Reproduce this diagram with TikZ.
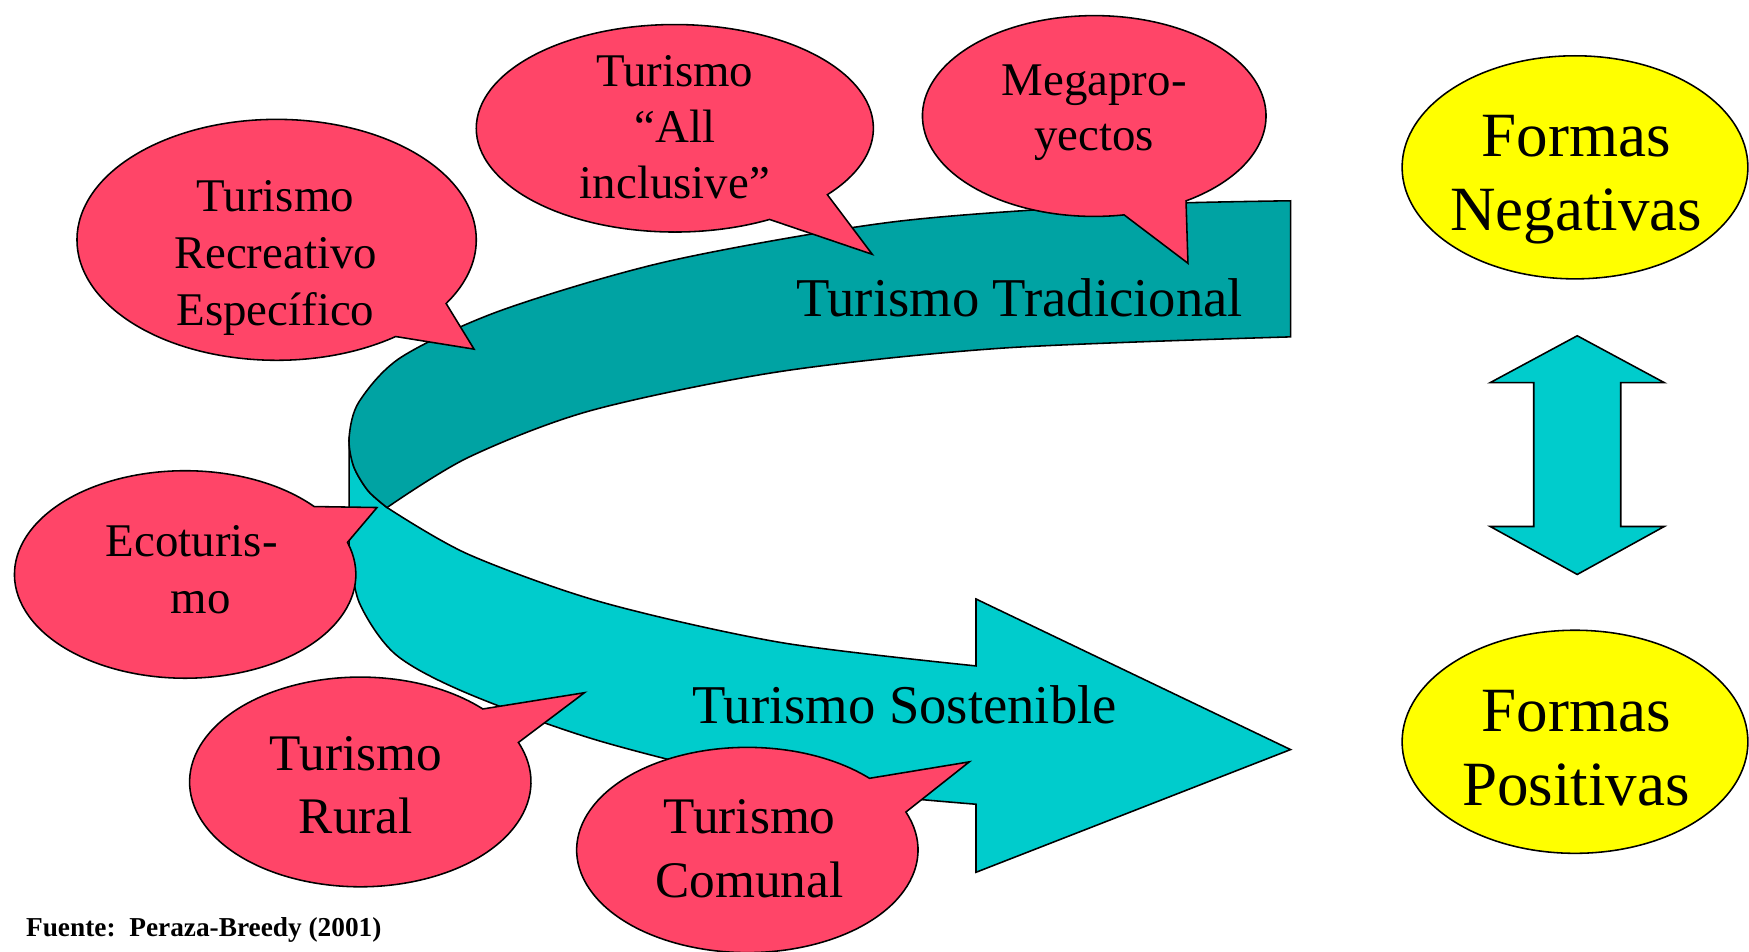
\documentclass[tikz,border=0pt]{standalone}
\usepackage{fontspec}
\setmainfont{Liberation Serif}
\definecolor{bubpink}{RGB}{255,69,104}
\definecolor{darkteal}{RGB}{0,163,163}
\definecolor{lightcyan}{RGB}{0,204,204}
\definecolor{formyel}{RGB}{255,255,0}
\tikzset{
  outl/.style={draw=black, line width=0.7pt, line join=miter},
  bub/.style={outl, fill=bubpink},
  yel/.style={outl, fill=formyel},
  bandD/.style={outl, fill=darkteal},
  bandL/.style={outl, fill=lightcyan},
  btxt/.style={align=center, inner sep=0pt, font=\fontsize{21pt}{25.5pt}\selectfont},
  bigbtxt/.style={align=center, inner sep=0pt, font=\fontsize{23pt}{28.5pt}\selectfont},
  formtxt/.style={align=center, inner sep=0pt, font=\fontsize{28.25pt}{33pt}\selectfont},
  bandtxt/.style={inner sep=0pt, anchor=base, font=\fontsize{24.5pt}{29pt}\selectfont},
}
\begin{document}
\begin{tikzpicture}[x=0.5pt, y=-0.5pt]
\useasboundingbox (0,0) rectangle (1568,853);
\fill[white] (0,0) rectangle (1568,853);

% lower (light) band with arrow head
\path[bandL] (347,455) -- plot[smooth] coordinates {(347,455) (420,497) (540,540) (700,576) (875,597)}
  -- (875,537) -- (1157,672) -- (875,782) -- (875,721)
  -- plot[smooth] coordinates {(875,721) (700,703) (540,665) (420,622) (355,587) (322,540) (313,490)}
  -- (313,392)
  -- plot[smooth] coordinates {(313,392) (317,418) (330,440) (347,455)} -- cycle;

% upper (dark) band
\path[bandD] (1157,302) -- (1157,180)
  -- plot[smooth] coordinates {(1157,180) (1000,184) (800,199) (600,234) (450,278) (360,320) (322,360) (313,392) (317,418) (330,440) (347,455)}
  -- plot[smooth] coordinates {(347,455) (420,410) (530,368) (700,333) (900,312) (1157,302)} -- cycle;

\node[bandtxt] (trad) at (914,284) {Turismo Tradicional};
\node[bandtxt] (sost) at (811,649) {Turismo Sostenible};

% speech bubbles
\path[bub] (248,215) ++(53.4:179 and 108) arc[start angle=53.4, end angle=391.9, x radius=179, y radius=108] -- (425,313) -- cycle;
\path[bub] (605,115) ++(61.5:178 and 93) arc[start angle=61.5, end angle=399.8, x radius=178, y radius=93] -- (782,228) -- cycle;
\path[bub] (981,104) ++(80:154 and 90) arc[start angle=80, end angle=417.7, x radius=154, y radius=90] -- (1065,236) -- cycle;
\path[bub] (166,515) ++(-18:153 and 93) arc[start angle=-18, end angle=319.1, x radius=153, y radius=93] -- (338,455) -- cycle;
\path[bub] (323,701) ++(-22.1:153 and 94) arc[start angle=-22.1, end angle=315.9, x radius=153, y radius=94] -- (524,621) -- cycle;
\path[bub] (670,762) ++(-21.7:153 and 92) arc[start angle=-21.7, end angle=315.7, x radius=153, y radius=92] -- (869,683) -- cycle;

\node[btxt] (trec) at (247,231) {Turismo\\Recreativo\\Específico};
\node[btxt, font=\fontsize{21pt}{25pt}\selectfont] (tall) at (605,114) {Turismo\\“All\\inclusive”};
\node[btxt, font=\fontsize{21pt}{25pt}\selectfont] (tmeg) at (981,101) {Megapro-\\yectos};
\node[btxt] (teco) at (172,511) {Ecoturis-\\\hspace*{8pt}mo};
\node[bigbtxt] (trur) at (319,704) {Turismo\\Rural};
\node[bigbtxt] (tcom) at (672,761) {Turismo\\Comunal};

% formas
\path[yel] (1412,150) ellipse [x radius=155, y radius=100];
\path[yel] (1412,665) ellipse [x radius=155, y radius=100];
\node[formtxt] (tneg) at (1413,161) {Formas\\Negativas};
\node[formtxt] (tpos) at (1413,671) {Formas\\Positivas};

% double arrow
\path[bandL] (1414,301) -- (1492,343) -- (1453,343) -- (1453,472) -- (1492,472) -- (1414,515)
  -- (1336,472) -- (1375,472) -- (1375,343) -- (1336,343) -- cycle;

\node[inner sep=0pt, anchor=base west, font=\fontsize{12.25pt}{14pt}\selectfont\bfseries] (src) at (23,840) {Fuente:\ \ Peraza-Breedy (2001)};
\end{tikzpicture}
\end{document}
